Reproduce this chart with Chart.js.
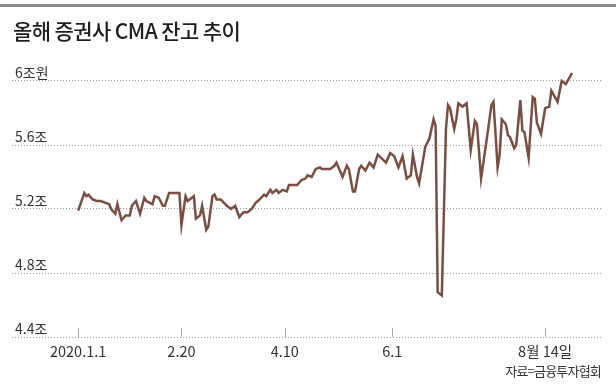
<!DOCTYPE html>
<html>
<head>
<meta charset="utf-8">
<script src="https://cdn.jsdelivr.net/npm/chart.js@4"></script>
<style>
  html,body{margin:0;padding:0;background:#fff;}
  #wrap{position:relative;width:616px;height:386px;overflow:hidden;font-family:"Noto Sans CJK KR","Noto Sans",sans-serif;}
  #topline{position:absolute;left:0;top:4px;width:616px;height:3px;background:#8a8a8a;}
  #title{position:absolute;left:13px;top:16px;font-size:21px;line-height:28px;font-weight:500;color:#1e1e1e;letter-spacing:-0.6px;white-space:nowrap;}
  #source{position:absolute;right:15px;top:361px;font-size:13px;line-height:20px;color:#333;letter-spacing:-0.8px;white-space:nowrap;}
  canvas{position:absolute;left:0;top:0;}
</style>
</head>
<body>
<div id="wrap">
  <div id="topline"></div>
  <canvas id="c" width="616" height="386"></canvas>
  <div id="title">올해 증권사 CMA 잔고 추이</div>
  <div id="source">자료=금융투자협회</div>
</div>
<script>
// days since 2020.1.1
const days = [0,3,4,5,7,9,11,13,15,16,18,19,21,23,25,26,28,30,32,33,36,37,39,41,42,44,46,49,50,52,53,56,57,59,60,62,63,65,66,67,69,72,74,76,78,80,82,84,86,87,90,91,93,94,96,97,99,101,102,106,108,110,111,113,115,117,118,122,124,125,128,130,131,133,134,136,137,139,141,143,145,149,151,153,155,157,159,161,162,164,165,168,170,172,173,174,176,178,179,180,182,183,184,186,188,190,192,193,195,198,200,201,203,204,205,207,208,209,211,212,214,215,216,218,220,221,222,224,226,228,229,232,234,235,236,239];
// CMA balance (조원)
const values = [5.19,5.30,5.28,5.29,5.26,5.25,5.25,5.24,5.23,5.20,5.17,5.23,5.13,5.16,5.16,5.22,5.25,5.17,5.27,5.25,5.23,5.28,5.27,5.22,5.22,5.30,5.30,5.30,5.10,5.28,5.25,5.28,5.14,5.16,5.22,5.07,5.09,5.28,5.29,5.26,5.26,5.22,5.20,5.22,5.15,5.18,5.18,5.20,5.24,5.25,5.29,5.28,5.32,5.30,5.32,5.30,5.32,5.31,5.35,5.35,5.38,5.39,5.41,5.40,5.45,5.46,5.45,5.45,5.47,5.49,5.40,5.47,5.45,5.31,5.31,5.45,5.47,5.44,5.49,5.46,5.54,5.49,5.55,5.53,5.46,5.53,5.39,5.41,5.54,5.40,5.36,5.59,5.64,5.76,5.72,4.68,4.66,5.70,5.85,5.83,5.70,5.76,5.86,5.84,5.86,5.57,5.75,5.73,5.39,5.66,5.85,5.87,5.46,5.54,5.76,5.73,5.66,5.65,5.58,5.60,5.88,5.69,5.68,5.52,5.90,5.89,5.74,5.67,5.83,5.84,5.94,5.87,6.00,5.99,5.98,6.05];

const xTicks = [0, 50, 100, 152, 226];
const xLabels = ['2020.1.1', '2.20', '4.10', '6.1', '8월 14일'];
const yTicks = [4.4, 4.8, 5.2, 5.6, 6.0];
const yLabels = ['4.4조', '4.8조', '5.2조', '5.6조', '6조원'];

const FONT = '"Noto Sans CJK KR", "Noto Sans", sans-serif';

// short tick marks standing on the bottom grid line
const tickMarks = {
  id: 'tickMarks',
  beforeDatasetsDraw(chart){
    const ctx = chart.ctx, x = chart.scales.x, a = chart.chartArea;
    ctx.save();
    ctx.strokeStyle = '#a8a8a8';
    ctx.lineWidth = 1;
    xTicks.forEach(d => {
      const px = Math.round(x.getPixelForValue(d)) + 0.5;
      ctx.beginPath();
      ctx.moveTo(px, a.bottom - 9);
      ctx.lineTo(px, a.bottom);
      ctx.stroke();
    });
    ctx.restore();
  }
};

new Chart(document.getElementById('c'), {
  type: 'line',
  data: {
    datasets: [{
      data: days.map((d, i) => ({x: d, y: values[i]})),
      borderColor: '#7a4e42',
      borderWidth: 2.5,
      pointRadius: 0,
      tension: 0,
      fill: false
    }]
  },
  options: {
    responsive: false,
    animation: false,
    layout: {padding: {left: 12, right: 13, top: 65, bottom: 0}},
    plugins: {legend: {display: false}, tooltip: {enabled: false}},
    scales: {
      x: {
        type: 'linear',
        min: -32, max: 254,
        afterBuildTicks: s => { s.ticks = xTicks.map(v => ({value: v})); },
        afterFit: s => { s.height = 49; },
        grid: {display: false, drawTicks: false},
        border: {display: false},
        ticks: {
          autoSkip: false, maxRotation: 0, padding: 6,
          color: '#333',
          font: {family: FONT, size: 14.5},
          callback: (v, i) => xLabels[i]
        }
      },
      y: {
        min: 4.4, max: 6.1,
        afterBuildTicks: s => { s.ticks = yTicks.map(v => ({value: v})); },
        afterFit: s => { s.width = 0; },
        grid: {color: '#9a9a9a', lineWidth: 1, drawTicks: false},
        border: {display: false, dash: [1, 2]},
        ticks: {
          mirror: true, padding: 3, labelOffset: -8,
          color: '#333',
          font: {family: FONT, size: 14},
          callback: (v, i) => yLabels[i]
        }
      }
    }
  },
  plugins: [tickMarks]
});
</script>
</body>
</html>
